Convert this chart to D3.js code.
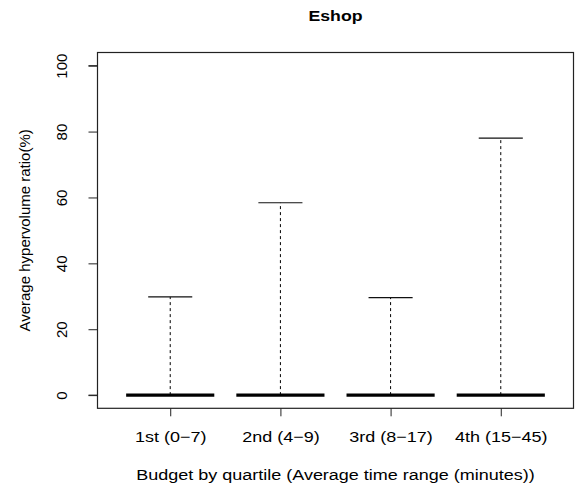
<!DOCTYPE html>
<html>
<head>
<meta charset="utf-8">
<script src="https://cdn.jsdelivr.net/npm/d3@7"></script>
<style>
  html, body { margin: 0; padding: 0; background: #fff; }
  svg text { font-family: "Liberation Sans", Arial, Helvetica, sans-serif; fill: #000; }
</style>
</head>
<body>
<svg id="chart" width="577" height="489"></svg>
<script>
// Box-plot summaries per budget quartile (hypervolume ratio, %)
const categories = ["1st (0\u22127)", "2nd (4\u22129)", "3rd (8\u221217)", "4th (15\u221245)"];
const mins    = [0, 0, 0, 0];
const q1s     = [0, 0, 0, 0];
const medians = [0, 0, 0, 0];
const q3s     = [0, 0, 0, 0];
const maxes   = [29.8, 58.4, 29.6, 78.0];
const yTicks  = [0, 20, 40, 60, 80, 100];

const title  = "Eshop";
const xTitle = "Budget by quartile (Average time range (minutes))";
const yTitle = "Average hypervolume ratio(%)";

const svg = d3.select("#chart");
const plot = { left: 97.5, right: 573.5, top: 52.5, bottom: 408.3 };
const stretch = 1.2;   // text is drawn slightly wide

const x = d3.scaleLinear().domain([0.34, 4.66]).range([plot.left, plot.right]);
const y = d3.scaleLinear().domain([-4, 104]).range([plot.bottom, plot.top]);

const boxW = 0.8, capW = 0.4;

// frame around the plotting region
svg.append("rect")
  .attr("x", plot.left).attr("y", plot.top)
  .attr("width", plot.right - plot.left).attr("height", plot.bottom - plot.top)
  .attr("fill", "none").attr("stroke", "#222").attr("stroke-width", 1.2);

// y axis
const yAxis = d3.axisLeft(y).tickValues(yTicks).tickSize(9).tickFormat("");
const gy = svg.append("g").attr("transform", `translate(${plot.left},0)`).call(yAxis);
gy.select(".domain").attr("d", `M-9,${y(0)}H0V${y(100)}H-9`).attr("stroke", "#222");
gy.selectAll(".tick line").attr("stroke", "#222");
gy.selectAll(".tick").append("text")
  .attr("transform", "translate(-31,0) rotate(-90)")
  .attr("text-anchor", "middle")
  .attr("font-size", 15)
  .text(d => d);

// x axis
const xAxis = d3.axisBottom(x).tickValues(categories.map((c, i) => i + 1)).tickSize(8).tickFormat("");
const gx = svg.append("g").attr("transform", `translate(0,${plot.bottom})`).call(xAxis);
gx.select(".domain").remove();
gx.selectAll(".tick line").attr("stroke", "#222");
gx.selectAll(".tick").append("text")
  .attr("transform", `translate(0,34) scale(${stretch},1)`)
  .attr("text-anchor", "middle")
  .attr("font-size", 15)
  .text((d, i) => categories[i]);

// boxes
const boxes = categories.map((c, i) => ({
  pos: i + 1, min: mins[i], q1: q1s[i], med: medians[i], q3: q3s[i], max: maxes[i]
}));

const g = svg.append("g");
boxes.forEach(b => {
  const cx = x(b.pos);
  const x0 = x(b.pos - boxW / 2), x1 = x(b.pos + boxW / 2);
  const c0 = x(b.pos - capW / 2), c1 = x(b.pos + capW / 2);
  // whiskers (dashed)
  g.append("line").attr("x1", cx).attr("x2", cx).attr("y1", y(b.q3)).attr("y2", y(b.max))
    .attr("stroke", "#000").attr("stroke-width", 1).attr("stroke-dasharray", "3,3");
  g.append("line").attr("x1", cx).attr("x2", cx).attr("y1", y(b.q1)).attr("y2", y(b.min))
    .attr("stroke", "#000").attr("stroke-width", 1).attr("stroke-dasharray", "3,3");
  // caps
  g.append("line").attr("x1", c0).attr("x2", c1).attr("y1", y(b.max)).attr("y2", y(b.max))
    .attr("stroke", "#111").attr("stroke-width", 1.2);
  g.append("line").attr("x1", c0).attr("x2", c1).attr("y1", y(b.min)).attr("y2", y(b.min))
    .attr("stroke", "#111").attr("stroke-width", 1.2);
  // box
  g.append("rect").attr("x", x0).attr("width", x1 - x0)
    .attr("y", y(b.q3)).attr("height", Math.max(0, y(b.q1) - y(b.q3)))
    .attr("fill", "none").attr("stroke", "#000").attr("stroke-width", 1);
  // median
  g.append("line").attr("x1", x0).attr("x2", x1).attr("y1", y(b.med)).attr("y2", y(b.med))
    .attr("stroke", "#000").attr("stroke-width", 3.2);
});

// titles
const mid = (plot.left + plot.right) / 2;
svg.append("text")
  .attr("transform", `translate(${mid},20.7) scale(1.18,1)`)
  .attr("text-anchor", "middle").attr("font-size", 15).attr("font-weight", "bold")
  .text(title);
svg.append("text")
  .attr("transform", `translate(${mid},479.5) scale(${stretch},1)`)
  .attr("text-anchor", "middle").attr("font-size", 15)
  .text(xTitle);
svg.append("text")
  .attr("transform", `translate(29.5,${(plot.top + plot.bottom) / 2}) rotate(-90)`)
  .attr("text-anchor", "middle").attr("font-size", 15)
  .text(yTitle);
</script>
</body>
</html>
